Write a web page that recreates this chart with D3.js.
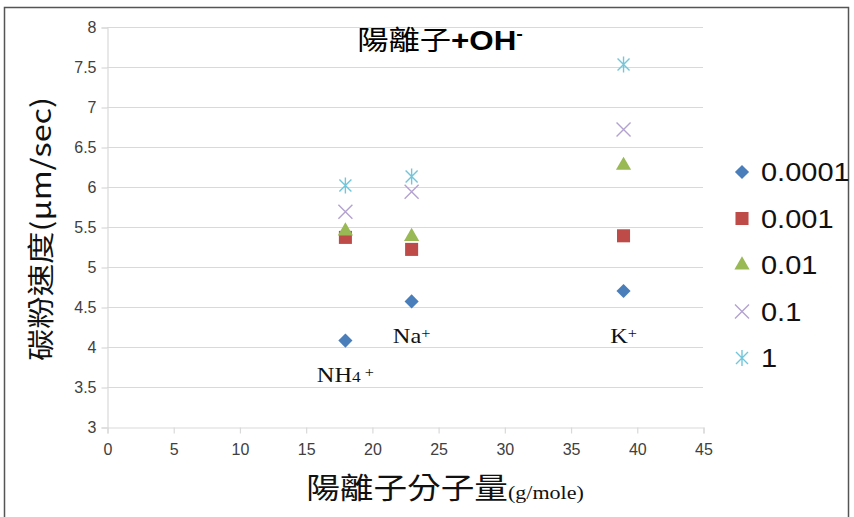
<!DOCTYPE html>
<html><head><meta charset="utf-8">
<script src="https://cdn.jsdelivr.net/npm/d3@7"></script>
<style>body{margin:0;background:#fff}svg{display:block}</style>
</head><body>
<svg id="c" width="854" height="517"></svg>
<script>
const seriesNames = ["0.0001","0.001","0.01","0.1","1"];
const xValues = [18, 23, 39];
const s0001 = [4.08, 4.57, 4.70];
const s001 = [5.37, 5.22, 5.39];
const s01 = [5.45, 5.38, 6.27];
const s1 = [5.69, 5.94, 6.72];
const s10 = [6.02, 6.13, 7.53];
const seriesValues = [s0001, s001, s01, s1, s10];
const xTicks = [0,5,10,15,20,25,30,35,40,45];
const yTicks = [3,3.5,4,4.5,5,5.5,6,6.5,7,7.5,8];
const annotations = [
  {x:18, y:3.56, parts:[["NH",""],["4","sub"],[" +","sup"]]},
  {x:23, y:4.05, parts:[["Na",""],["+","sup"]]},
  {x:39, y:4.05, parts:[["K",""],["+","sup"]]}
];

const svg = d3.select("#c");
const x = d3.scaleLinear().domain([0,45]).range([107,703]);
const y = d3.scaleLinear().domain([3,8]).range([427,27]);
const SX = 1.16; // horizontal text stretch of the reference

// frame
svg.append("rect").attr("x",4.5).attr("y",7.5).attr("width",844).attr("height",520)
  .attr("fill","none").attr("stroke","#555").attr("stroke-width",1.5);

// gridlines
svg.append("g").selectAll("line").data(yTicks.slice(1)).join("line")
  .attr("x1",107).attr("x2",703).attr("y1",d=>Math.round(y(d))+0.5).attr("y2",d=>Math.round(y(d))+0.5)
  .attr("stroke","#d9d9d9").attr("stroke-width",1.2);

const tickFont = "'Liberation Sans Narrow','Arial Narrow','Liberation Sans',sans-serif";
const ya = svg.append("g").attr("transform","translate(107.5,0.5)")
  .call(d3.axisLeft(y).tickValues(yTicks).tickSize(6).tickPadding(5).tickFormat(d3.format("")));
const xa = svg.append("g").attr("transform","translate(0.5,427.5)")
  .call(d3.axisBottom(x).tickValues(xTicks).tickSize(6).tickPadding(10));
[ya,xa].forEach(a=>{
  a.select(".domain").attr("stroke","#d9d9d9").attr("stroke-width",1.2);
  a.selectAll(".tick line").attr("stroke","#d9d9d9").attr("stroke-width",1.2);
  a.selectAll("text").attr("fill","#404040").style("font-family",tickFont).style("font-size","16px");
});

const colors = ["#4a7ebb","#be4b48","#98b954","#b3a2d0","#72c6da"];
function markerPath(i){
  if(i===0) return d3.symbol().type(d3.symbolSquare).size(100)();
  if(i===1) return d3.symbol().type(d3.symbolSquare).size(170)();
  if(i===2) return d3.symbol().type(d3.symbolTriangle).size(100)();
  if(i===3) return "M-7,-7L7,7M-7,7L7,-7";
  return "M-6,-6L6,6M-6,6L6,-6M0,-8L0,8";
}
function drawMarker(g,i,cx,cy){
  const p = g.append("path").attr("d",markerPath(i))
    .attr("transform",`translate(${cx},${cy})`+(i===0?" rotate(45)":""));
  if(i<3) p.attr("fill",colors[i]);
  else p.attr("fill","none").attr("stroke",colors[i]).attr("stroke-width",1.4);
}
const mg = svg.append("g");
seriesValues.forEach((vals,i)=>{
  vals.forEach((v,j)=>drawMarker(mg,i,x(xValues[j]),y(v)));
});

function stretched(px,py){
  return svg.append("text").attr("transform",`translate(${px},${py}) scale(${SX},1)`);
}

// annotations
annotations.forEach(a=>{
  const t = stretched(x(a.x),y(a.y)).attr("text-anchor","middle")
    .style("font-family","'Liberation Serif','Times New Roman',serif").style("font-size","21px").attr("fill","#111");
  a.parts.forEach(p=>{
    const ts = t.append("tspan").text(p[0]);
    if(p[1]==="sub") ts.style("font-size","15px");
    if(p[1]==="sup") ts.style("font-size","14px").attr("dy",-5);
  });
});

// title
const title = stretched(440,50).attr("text-anchor","middle").style("font-size","27px").attr("fill","#000");
title.append("tspan").text("陽離子").style("font-family","'Noto Sans CJK TC',sans-serif");
title.append("tspan").text("+OH").style("font-family","'Liberation Sans',Arial,sans-serif").style("font-weight","bold");
title.append("tspan").text("-").style("font-family","'Liberation Sans',Arial,sans-serif").style("font-weight","bold").style("font-size","17px").attr("dy",-11);

// y title
svg.append("text").attr("transform","translate(51,229) rotate(-90) scale(1.2,1)").attr("text-anchor","middle")
  .style("font-family","'Noto Sans CJK TC',sans-serif").style("font-size","27px").attr("fill","#111")
  .text("碳粉速度(μm/sec)");

// x title
const xt = stretched(445,499).attr("text-anchor","middle").attr("fill","#111");
xt.append("tspan").text("陽離子分子量").style("font-family","'Noto Sans CJK TC',sans-serif").style("font-size","29px");
xt.append("tspan").text("(g/mole)").style("font-family","'Liberation Serif','Times New Roman',serif").style("font-size","19px");

// legend
const lg = svg.append("g");
seriesNames.forEach((n,i)=>{
  const ly = 172 + i*46.5;
  drawMarker(lg,i,742,ly);
  lg.append("text").attr("transform",`translate(761,${ly+9}) scale(${SX},1)`).text(n)
    .style("font-family","'Liberation Sans',Arial,sans-serif").style("font-size","25px").attr("fill","#111");
});
</script>
</body></html>
